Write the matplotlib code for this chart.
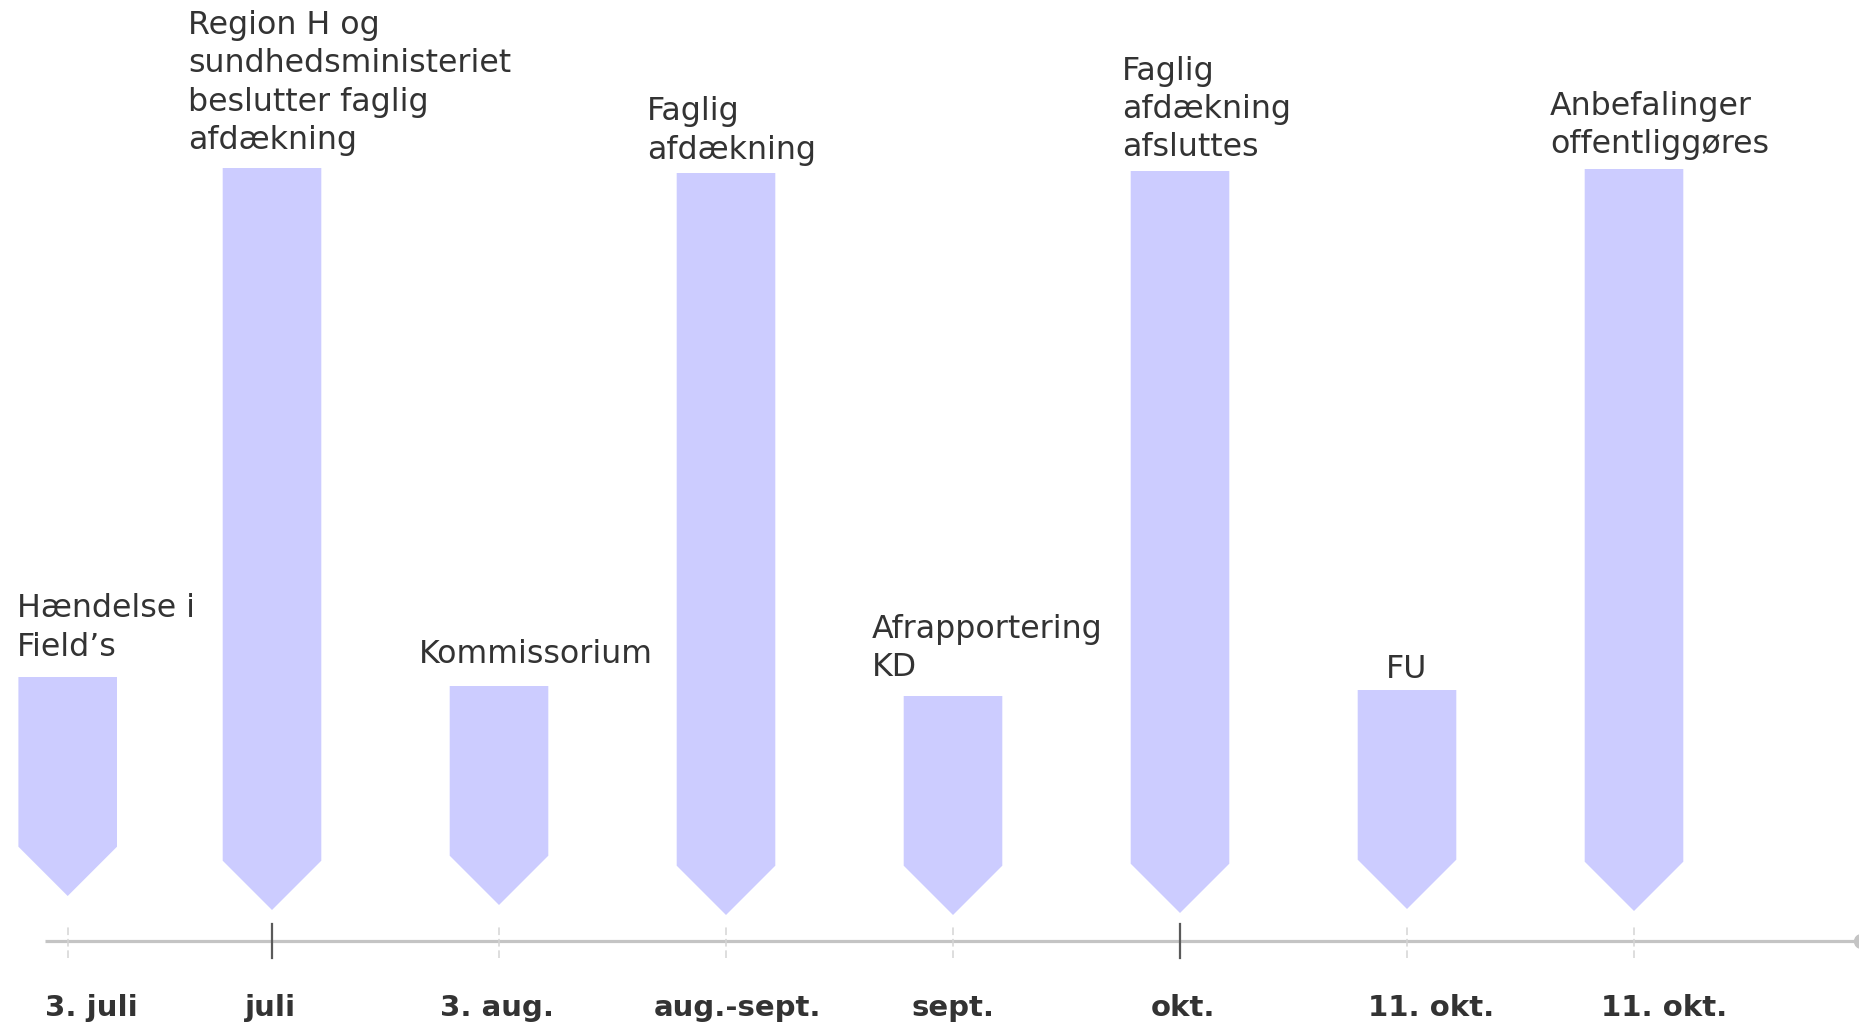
import matplotlib.pyplot as plt
from matplotlib.patches import Polygon

# --- data ---
events = ["Hændelse i\nField’s",
          "Region H og\nsundhedsministeriet\nbeslutter faglig\nafdækning",
          "Kommissorium",
          "Faglig\nafdækning",
          "Afrapportering\nKD",
          "Faglig\nafdækning\nafsluttes",
          "FU",
          "Anbefalinger\noffentliggøres"]
dates = ["3. juli", "juli", "3. aug.", "aug.-sept.", "sept.", "okt.", "11. okt.", "11. okt."]
event_pos = [0.1, 1, 2, 3, 4, 5, 6, 7]            # position on the timeline
arrow_top = [264, 773, 255, 768, 245, 770, 251, 772]  # height of arrow top above axis
arrow_tip = [45, 31, 36, 26, 26, 28, 32, 30]          # height of arrow tip above axis
major_tick = [False, True, False, False, False, True, False, False]

# --- layout / style ---
BAR_COLOR = "#ccccff"
TEXT_COLOR = "#333333"
UNIT_PX = 227          # px per timeline unit
HALF_W = 49.3          # half arrow width in px
label_dx = [-0.225, -0.369, -0.355, -0.347, -0.358, -0.257, 0.0, -0.37]
label_ha = ["left"] * 6 + ["center", "left"]
label_gap = [21, 18.7, 22.7, 14, 19.7, 14.3, 12, 15.7]
date_shift = [24, -1, -2, 11, 0, 3, 24, 30]   # px

fig = plt.figure(figsize=(18.59, 10.25), dpi=100)
ax = fig.add_axes([45 / 1859, 0, 8 * UNIT_PX / 1859, 1])
ax.set_xlim(0, 8)
ax.set_ylim(-84, 941)
ax.axis("off")

# timeline
ax.plot([0, 8], [0, 0], color="#c4c4c4", lw=2.3, solid_capstyle="butt",
        zorder=1, clip_on=False)
ax.plot([8], [0], "o", ms=10, color="#c4c4c4", clip_on=False, zorder=1)

hw = HALF_W / UNIT_PX
for i, x in enumerate(event_pos):
    top, tip = arrow_top[i], arrow_tip[i]
    shoulder = tip + HALF_W
    poly = Polygon([(x - hw, top), (x + hw, top), (x + hw, shoulder),
                    (x, tip), (x - hw, shoulder)],
                   closed=True, facecolor=BAR_COLOR, edgecolor="none",
                   zorder=2, clip_on=False)
    ax.add_patch(poly)

    if major_tick[i]:
        ax.plot([x, x], [-17, 17], color="#5a5a5a", lw=1.6, zorder=3)
    else:
        ax.plot([x, x], [-17, 17], color="#d4d4d4", lw=1.1,
                ls=(0, (5, 2.5)), zorder=3)

    ax.text(x + label_dx[i], top + label_gap[i] - 6.6, events[i],
            ha=label_ha[i], va="bottom", fontsize=22.8, color=TEXT_COLOR,
            family="DejaVu Sans", linespacing=1.3, clip_on=False)

    ax.text(x + date_shift[i] / UNIT_PX, -75, dates[i], ha="center",
            va="baseline", fontsize=21, fontweight="bold", color=TEXT_COLOR,
            family="DejaVu Sans")

fig.savefig("out.png", dpi=100, facecolor="white")
